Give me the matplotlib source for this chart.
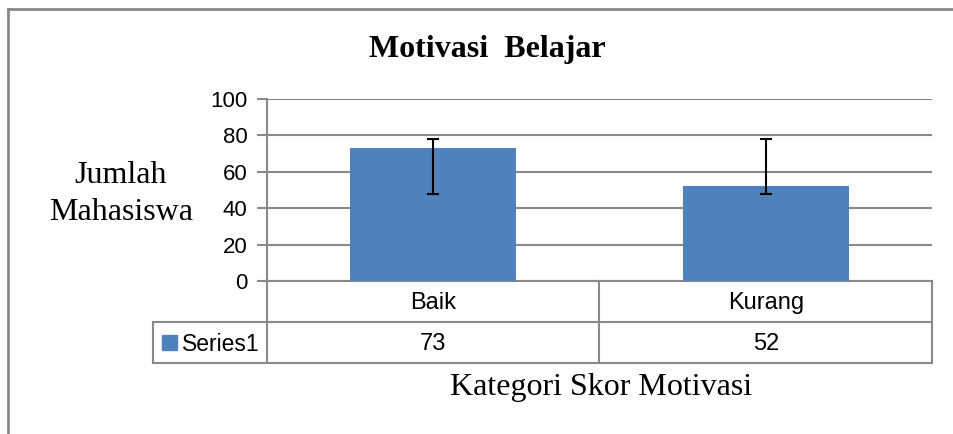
import matplotlib
matplotlib.use("Agg")
from matplotlib import pyplot as plt
from matplotlib.lines import Line2D
from matplotlib.patches import Rectangle

# data
kategori = ["Baik", "Kurang"]
nilai = [73, 52]
err_bawah = [25, 4]
err_atas = [5, 26]
nama_seri = "Series1"
judul = "Motivasi  Belajar"
label_y = "Jumlah\nMahasiswa"
label_x = "Kategori Skor Motivasi"
ticks_y = [0, 20, 40, 60, 80, 100]

warna_bar = "#4F81BD"
abu = "#898989"
W, H = 954, 434

fig = plt.figure(figsize=(W / 100, H / 100), dpi=100)
ax = fig.add_axes([267 / W, 1 - 281 / H, (932 - 267) / W, (281 - 99) / H])

x = list(range(len(kategori)))
ax.bar(x, nilai, width=0.5, color=warna_bar, zorder=3)
ax.errorbar(x, nilai, yerr=[err_bawah, err_atas], fmt="none", ecolor="black",
            elinewidth=1.5, capsize=4, capthick=1.5, zorder=4)

ax.set_xlim(-0.5, len(kategori) - 0.5)
ax.set_ylim(0, 100)
ax.set_yticks(ticks_y)
ax.set_yticklabels([str(t) for t in ticks_y], fontsize=16, family="Liberation Sans")
ax.tick_params(axis="y", length=7, color=abu, width=1.5, pad=7)
ax.set_xticks([])
ax.yaxis.grid(True, color=abu, linewidth=1.5, zorder=0)
for s in ["top", "right", "bottom"]:
    ax.spines[s].set_visible(False)
ax.spines["left"].set_color(abu)
ax.spines["left"].set_linewidth(1.5)

# data table below the axes
t = ax.transAxes
baris1 = (281 - 322) / (281 - 99)
baris2 = (281 - 363) / (281 - 99)
kiri = (153 - 267) / (932 - 267)
garis = dict(color=abu, linewidth=1.5, transform=t, clip_on=False)
n = len(kategori)
for i in range(n + 1):
    ax.add_line(Line2D([i / n, i / n], [0, baris2], **garis))
ax.add_line(Line2D([kiri, 1], [baris1, baris1], **garis))
ax.add_line(Line2D([kiri, 1], [baris2, baris2], **garis))
ax.add_line(Line2D([kiri, kiri], [baris1, baris2], **garis))
ax.add_line(Line2D([0, 1], [0, 0], **garis))

for i, (k, v) in enumerate(zip(kategori, nilai)):
    xc = (i + 0.5) / n
    ax.text(xc, baris1 / 2 - 0.01, k, transform=t, ha="center", va="center",
            fontsize=17, family="Liberation Sans")
    ax.text(xc, (baris1 + baris2) / 2 - 0.01, str(v), transform=t, ha="center",
            va="center", fontsize=17, family="Liberation Sans")

ax.add_patch(Rectangle((kiri + 9 / 665, (baris1 + baris2) / 2 - 7.5 / 182), 15 / 665, 15 / 182,
                       color=warna_bar, transform=t, clip_on=False))
ax.text(kiri + 29 / 665, (baris1 + baris2) / 2 - 0.01, nama_seri, transform=t,
        ha="left", va="center", fontsize=16.5, family="Liberation Sans")

fig.text(487 / W, 1 - 49 / H, judul, ha="center", va="center", fontsize=23,
         fontweight="bold", family="Liberation Serif")
fig.text(121 / W, 1 - 194 / H, label_y, ha="center", va="center", fontsize=23,
         family="Liberation Serif", linespacing=1.35)
fig.text(601 / W, 1 - 387 / H, label_x, ha="center", va="center", fontsize=23,
         family="Liberation Serif")

# border of the chart area
fig.add_artist(Line2D([8.5 / W, 1], [1 - 8.5 / H, 1 - 8.5 / H], color=abu,
                      linewidth=2, transform=fig.transFigure))
fig.add_artist(Line2D([8.5 / W, 8.5 / W], [0, 1 - 8.5 / H], color=abu,
                      linewidth=2, transform=fig.transFigure))

fig.savefig("out.png", dpi=100)
